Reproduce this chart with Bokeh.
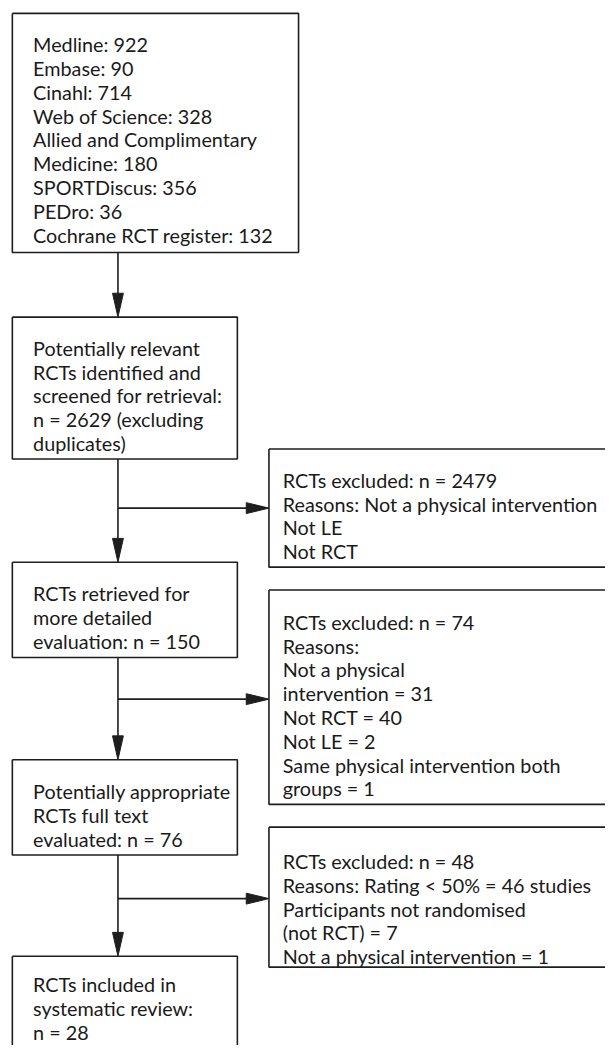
from bokeh.plotting import figure
from bokeh.models import Range1d
from bokeh.core.properties import value
from bokeh.embed import file_html
from bokeh.resources import INLINE

# ---- content (flow chart texts) ----
sources = ["Medline: 922", "Embase: 90", "Cinahl: 714", "Web of Science: 328",
           "Allied and Complimentary", "Medicine: 180", "SPORTDiscus: 356",
           "PEDro: 36", "Cochrane RCT register: 132"]
step2 = ["Potentially relevant", "RCTs identified and", "screened for retrieval:",
         "n = 2629 (excluding", "duplicates)"]
step3 = ["RCTs retrieved for", "more detailed", "evaluation: n = 150"]
step4 = ["Potentially appropriate", "RCTs full text", "evaluated: n = 76"]
step5 = ["RCTs included in", "systematic review:", "n = 28"]
excl1 = ["RCTs excluded: n = 2479", "Reasons: Not a physical intervention",
         "Not LE", "Not RCT"]
excl2 = ["RCTs excluded: n = 74", "Reasons:", "Not a physical", "intervention = 31",
         "Not RCT = 40", "Not LE = 2", "Same physical intervention both", "groups = 1"]
excl3 = ["RCTs excluded: n = 48", "Reasons: Rating < 50% = 46 studies",
         "Participants not randomised", "(not RCT) = 7",
         "Not a physical intervention = 1"]

main_texts = [sources, step2, step3, step4, step5]
excl_texts = [excl1, excl2, excl3]

# ---- layout (reference pixel coordinates, 613 x 1053 canvas) ----
W, H = 605, 1045
RW, RH = 613, 1053
main_left = 12
main_right = [302, 240, 240, 240, 240]
main_top = [13, 319, 566, 765, 963]
main_bottom = [254, 462, 662, 861, 1080]
main_first = [44, 350, 597, 797, 991]
excl_left, excl_right = 272, 650
excl_top = [452, 594, 833]
excl_bottom = [571, 810, 974]
excl_first = [483, 626, 867]
branch_y = [511.5, 704, 905]
spine_x = 119
LH = 24
LC = "#1e1e1e"
LW = 1.6
FONT = "Lato"
FS = "19.8px"

p = figure(width=W, height=H, output_backend="svg", toolbar_location=None,
           x_range=Range1d(0, RW), y_range=Range1d(RH, 0),
           min_border=0, outline_line_color=None)
p.axis.visible = False
p.grid.visible = False
p.background_fill_color = "white"
p.border_fill_color = "white"

# boxes
bx, by = [], []
for r, t, b in zip(main_right, main_top, main_bottom):
    bx.append([main_left, r, r, main_left, main_left])
    by.append([t, t, b, b, t])
for t, b in zip(excl_top, excl_bottom):
    bx.append([excl_left, excl_right, excl_right, excl_left, excl_left])
    by.append([t, t, b, b, t])
p.multi_line(bx, by, line_color=LC, line_width=LW)

# vertical connectors with down arrowheads
vx, vy, tx, ty = [], [], [], []
for i in range(4):
    top = main_bottom[i]
    tip = main_top[i + 1]
    vx.append([spine_x, spine_x])
    vy.append([top, tip - 20])
    tx.append([spine_x - 5.5, spine_x + 5.5, spine_x])
    ty.append([tip - 24, tip - 24, tip])
# horizontal branches with right arrowheads
for y in branch_y:
    vx.append([spine_x, excl_left - 20])
    vy.append([y, y])
    tx.append([excl_left - 23, excl_left - 23, excl_left])
    ty.append([y - 5.5, y + 5.5, y])
p.multi_line(vx, vy, line_color=LC, line_width=LW)
p.patches(tx, ty, fill_color=LC, line_color=LC, line_width=1)

# texts
xs, ys, ts = [], [], []
for lines, first in zip(main_texts, main_first):
    for k, s in enumerate(lines):
        xs.append(main_left + 21)
        ys.append(first + k * LH)
        ts.append(s)
for lines, first in zip(excl_texts, excl_first):
    for k, s in enumerate(lines):
        xs.append(excl_left + 14)
        ys.append(first + k * LH)
        ts.append(s)
p.text(x=xs, y=ys, text=ts, text_font=value(FONT), text_font_size=FS,
       text_color="#1a1a1a", text_baseline="alphabetic", text_align="left")

open("out.html", "w").write(file_html(p, INLINE))
